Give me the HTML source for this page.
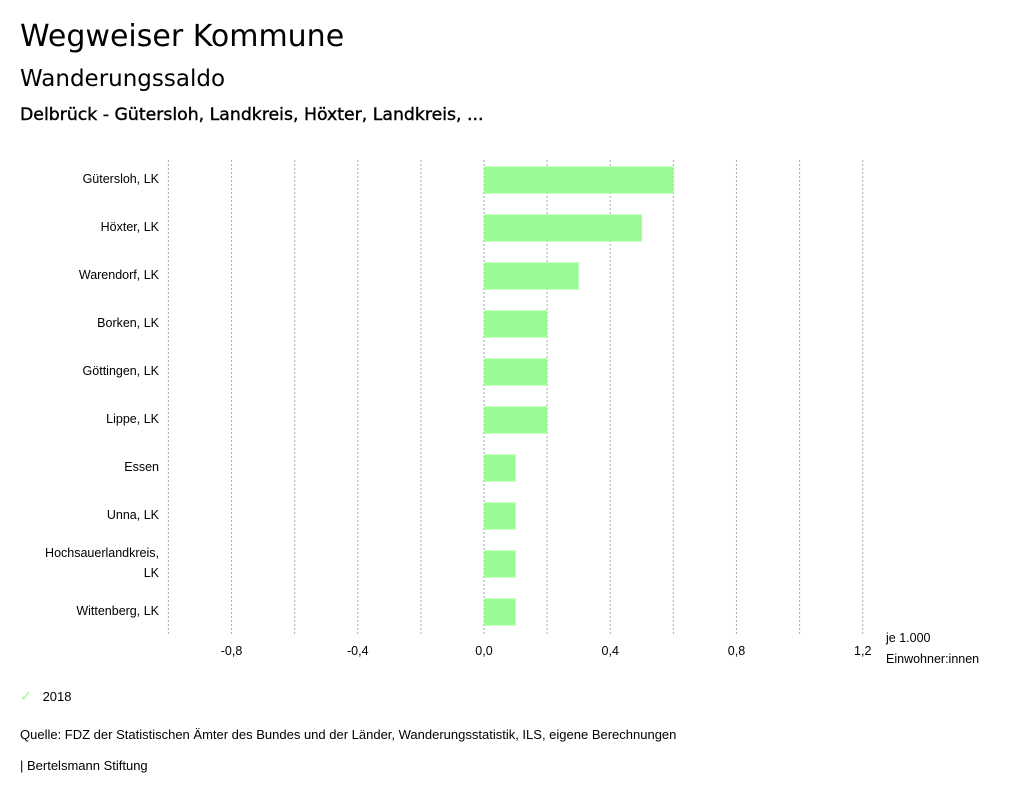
<!DOCTYPE html>
<html><head><meta charset="utf-8"><style>
body{margin:0;width:1024px;height:799px;background:#fff;font-family:"Liberation Sans",sans-serif;color:#000;overflow:hidden;position:relative}
.t{position:absolute;white-space:nowrap}
</style></head><body>
<div class="t" style="left:20px;top:19px;font-size:30px;font-family:'DejaVu Sans',sans-serif;">Wegweiser Kommune</div>
<div class="t" style="left:20px;top:66px;font-size:23px;font-family:'DejaVu Sans',sans-serif;">Wanderungssaldo</div>
<div class="t" style="left:20px;top:105px;font-size:17.3px;-webkit-text-stroke:0.4px #000;font-family:'DejaVu Sans',sans-serif;">Delbrück - Gütersloh, Landkreis, Höxter, Landkreis, ...</div>
<svg id="chart" width="1024" height="700" style="position:absolute;left:0;top:0" font-family="Liberation Sans, sans-serif" font-size="12.5"></svg>
<div class="t" style="left:20px;top:688px;font-size:13px;"><span style="color:#9afa94;font-size:14px">✓</span>&nbsp;&nbsp;&nbsp;2018</div>
<div class="t" style="left:20px;top:727px;font-size:13px;">Quelle: FDZ der Statistischen Ämter des Bundes und der Länder, Wanderungsstatistik, ILS, eigene Berechnungen</div>
<div class="t" style="left:20px;top:758px;font-size:13px;">| Bertelsmann Stiftung</div>
<script>
const categories=[["Gütersloh, LK"],["Höxter, LK"],["Warendorf, LK"],["Borken, LK"],["Göttingen, LK"],["Lippe, LK"],["Essen"],["Unna, LK"],["Hochsauerlandkreis,","LK"],["Wittenberg, LK"]];
const values2018=[0.6,0.5,0.3,0.2,0.2,0.2,0.1,0.1,0.1,0.1];
const gridValues=[-1.0,-0.8,-0.6,-0.4,-0.2,0,0.2,0.4,0.6,0.8,1.0,1.2];
const tickValues=[-0.8,-0.4,0,0.4,0.8,1.2];
const tickLabels=["-0,8","-0,4","0,0","0,4","0,8","1,2"];
const svg=document.getElementById('chart');const NS='http://www.w3.org/2000/svg';
const x=v=>484+v*315.6;
const top0=156,rowH=48;const y=i=>top0+i*rowH;
function mk(t,a,p){const e=document.createElementNS(NS,t);for(const k in a)e.setAttribute(k,a[k]);(p||svg).appendChild(e);return e;}
gridValues.forEach(v=>{const l=mk('line',{x1:x(v),x2:x(v),y1:160,y2:635,stroke:'#aaa','stroke-dasharray':'2,2','stroke-width':1});

});
tickValues.forEach((v,i)=>{const t=mk('text',{x:x(v),y:655,'text-anchor':'middle'});t.textContent=tickLabels[i];

});
categories.forEach((c,i)=>{const cy=y(i)+24;
c.forEach((line,j)=>{const t=mk('text',{x:159,y:cy+3+(c.length>1?(j-0.5)*20:0),'text-anchor':'end'});t.textContent=line;

});
const v=values2018[i];const r=mk('rect',{x:Math.min(x(0),x(v)),y:cy-13.5,width:Math.abs(x(v)-x(0)),height:27,fill:'#9afa94'});

});
[["je 1.000",642],["Einwohner:innen",663]].forEach(a=>{const t=mk('text',{x:886,y:a[1]});t.textContent=a[0];

});
</script>
</body></html>
